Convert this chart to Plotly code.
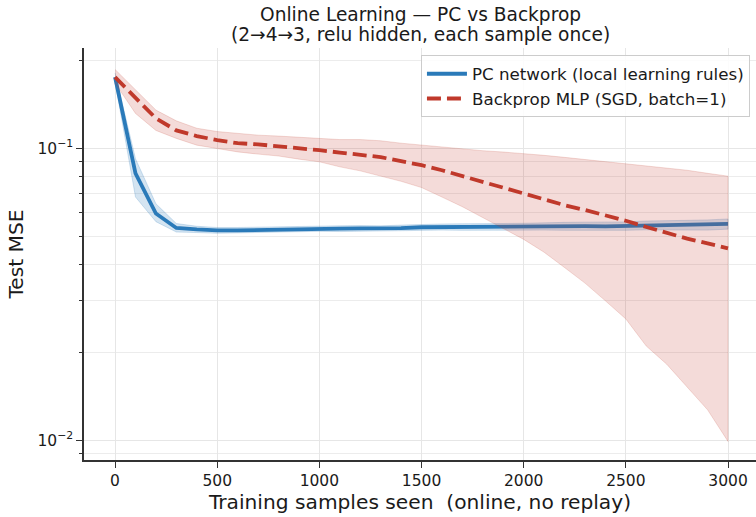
import plotly.graph_objects as go

samples = list(range(0, 3001, 100))

pc_mean = [0.175, 0.082, 0.0597, 0.0533, 0.0527, 0.0523, 0.0523, 0.0525, 0.0527, 0.0529,
           0.0531, 0.0530, 0.0531, 0.0530, 0.0532, 0.0536, 0.0537, 0.0537, 0.0536, 0.0537,
           0.0538, 0.0540, 0.0540, 0.0541, 0.0540, 0.0541, 0.0544, 0.0546, 0.0545, 0.0546, 0.0550]
pc_upper = [0.181, 0.092, 0.0645, 0.0552, 0.0540, 0.0535, 0.0535, 0.0537, 0.0539, 0.0541,
            0.0543, 0.0542, 0.0543, 0.0542, 0.0545, 0.0549, 0.0550, 0.0551, 0.0550, 0.0552,
            0.0553, 0.0556, 0.0557, 0.0558, 0.0558, 0.0559, 0.0563, 0.0566, 0.0566, 0.0568, 0.0572]
pc_lower = [0.169, 0.068, 0.0560, 0.0516, 0.0514, 0.0511, 0.0511, 0.0513, 0.0515, 0.0517,
            0.0519, 0.0518, 0.0519, 0.0518, 0.0519, 0.0523, 0.0524, 0.0523, 0.0522, 0.0522,
            0.0523, 0.0524, 0.0523, 0.0524, 0.0522, 0.0523, 0.0525, 0.0526, 0.0524, 0.0524, 0.0528]

bp_mean = [0.175, 0.148, 0.1265, 0.115, 0.110, 0.1065, 0.104, 0.103, 0.1016, 0.0997,
           0.0984, 0.0966, 0.0950, 0.0932, 0.0902, 0.0874, 0.084, 0.0802, 0.0767, 0.0733,
           0.0703, 0.0668, 0.0638, 0.0614, 0.059, 0.0564, 0.0537, 0.0512, 0.049, 0.0472, 0.0454]
bp_upper = [0.186, 0.158, 0.135, 0.124, 0.117, 0.114, 0.1123, 0.1108, 0.110, 0.109,
            0.108, 0.107, 0.107, 0.106, 0.104, 0.1024, 0.101, 0.0995, 0.098, 0.097,
            0.096, 0.0945, 0.093, 0.0915, 0.090, 0.0886, 0.087, 0.0855, 0.084, 0.082, 0.0802]
bp_lower = [0.167, 0.1315, 0.115, 0.108, 0.1024, 0.0997, 0.0971, 0.0954, 0.094, 0.0917,
            0.0898, 0.0863, 0.0836, 0.080, 0.077, 0.0733, 0.068, 0.063, 0.058, 0.053,
            0.0487, 0.044, 0.039, 0.0345, 0.030, 0.026, 0.021, 0.0182, 0.0152, 0.0127, 0.0099]

x_ticks = [0, 500, 1000, 1500, 2000, 2500, 3000]
y_ticks = [0.01, 0.1]
y_ticktext = ["10<sup>\u22122</sup>", "10<sup>\u22121</sup>"]
y_minor = [0.009, 0.02, 0.03, 0.04, 0.05, 0.06, 0.07, 0.08, 0.09, 0.2]

BLUE = "#2a7ab9"
RED = "#c0392b"
FONT = "DejaVu Sans"

fig = go.Figure()

fig.add_trace(go.Scatter(
    x=samples + samples[::-1], y=pc_upper + pc_lower[::-1],
    fill="toself", fillcolor="rgba(42,122,185,0.2)",
    line=dict(color="rgba(42,122,185,0.25)", width=0.8),
    mode="lines", showlegend=False, hoverinfo="skip"))
fig.add_trace(go.Scatter(
    x=samples, y=pc_mean, mode="lines",
    line=dict(color=BLUE, width=3.8),
    name="PC network (local learning rules)"))
fig.add_trace(go.Scatter(
    x=samples + samples[::-1], y=bp_upper + bp_lower[::-1],
    fill="toself", fillcolor="rgba(192,57,43,0.18)",
    line=dict(color="rgba(192,57,43,0.22)", width=0.8),
    mode="lines", showlegend=False, hoverinfo="skip"))
fig.add_trace(go.Scatter(
    x=samples, y=bp_mean, mode="lines",
    line=dict(color=RED, width=3.8, dash="14px,6px"),
    name="Backprop MLP (SGD, batch=1)"))

fig.update_layout(
    width=756, height=517,
    margin=dict(l=84, r=0, t=48, b=57),
    paper_bgcolor="white", plot_bgcolor="white",
    font=dict(family=FONT, color="#1a1a1a", size=15.5),
    showlegend=True,
    legend=dict(
        x=0.991, y=0.982, xanchor="right", yanchor="top",
        bgcolor="rgba(255,255,255,0.85)", bordercolor="#cccccc", borderwidth=1,
        font=dict(family=FONT, size=16.7, color="#1a1a1a"),
        itemwidth=40, tracegroupgap=2),
    annotations=[
        dict(text="Online Learning \u2014 PC vs Backprop", xref="paper", yref="paper",
             x=0.5, y=(460 - 14) / 412, xanchor="center", yanchor="middle",
             showarrow=False, font=dict(family=FONT, size=18.6, color="#1a1a1a")),
        dict(text="(2\u21924\u21923, relu hidden, each sample once)", xref="paper", yref="paper",
             x=0.5, y=(460 - 35) / 412, xanchor="center", yanchor="middle",
             showarrow=False, font=dict(family=FONT, size=18.6, color="#1a1a1a")),
    ],
)

fig.update_xaxes(
    range=[-152, 3137], tickvals=x_ticks,
    showline=True, linecolor="#333333", linewidth=1.5,
    ticks="outside", ticklen=6, tickwidth=1.3, tickcolor="#333333",
    showgrid=True, gridcolor="#e6e6e6", gridwidth=1, zeroline=False,
    tickfont=dict(family=FONT, size=15.5),
    title=dict(text="Training samples seen \u00a0(online, no replay)",
               font=dict(family=FONT, size=20.2), standoff=4),
)
fig.update_yaxes(
    type="log", range=[-2.068, -0.657],
    tickvals=y_ticks, ticktext=y_ticktext,
    showline=True, linecolor="#333333", linewidth=1.5,
    ticks="outside", ticklen=6, tickwidth=1.3, tickcolor="#333333",
    showgrid=True, gridcolor="#e6e6e6", gridwidth=1, zeroline=False,
    tickfont=dict(family=FONT, size=15.5),
    minor=dict(tickvals=y_minor, ticks="outside", ticklen=3.5, tickwidth=1,
               tickcolor="#333333", showgrid=True, gridcolor="#ececec", gridwidth=1),
    title=dict(text="Test MSE", font=dict(family=FONT, size=20.2), standoff=8),
)

fig.write_html("out.html")
